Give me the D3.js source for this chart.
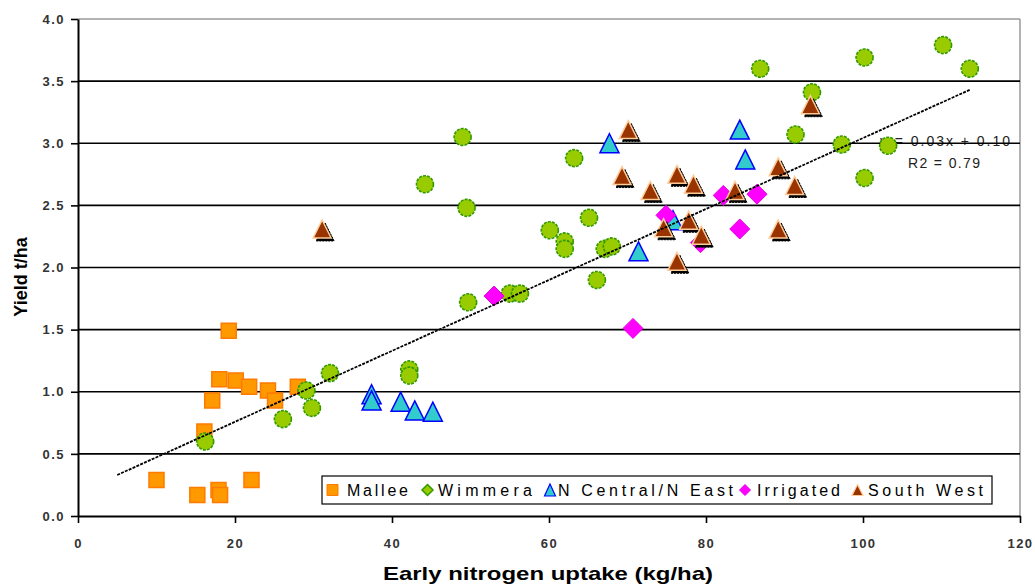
<!DOCTYPE html>
<html><head><meta charset="utf-8">
<script src="https://cdn.jsdelivr.net/npm/d3@7"></script>
<style>
html,body{margin:0;padding:0;background:#fff;}
svg{display:block;font-family:"Liberation Sans",Arial,sans-serif;}
</style></head>
<body><svg id="c" width="1035" height="584"></svg>
<script>
// ---- data ----
const malleeX = [19.2, 18.0, 20.1, 21.8, 24.2, 17.1, 25.1, 28.0, 16.1, 10.0, 15.2, 17.9, 18.1, 22.1];
const malleeY = [1.49, 1.10, 1.09, 1.04, 1.01, 0.93, 0.93, 1.04, 0.68, 0.29, 0.17, 0.21, 0.17, 0.29];
const wimmeraX = [16.2, 26.1, 29.1, 29.8, 32.1, 42.2, 42.2, 44.2, 49.0, 49.5, 49.7, 55.0, 56.3, 60.1, 62.0, 62.0, 63.2, 65.1, 66.1, 67.1, 68.0, 86.9, 91.4, 93.5, 97.3, 100.2, 100.2, 103.2, 110.2, 113.6];
const wimmeraY = [0.60, 0.78, 1.01, 0.87, 1.15, 1.18, 1.13, 2.67, 3.05, 2.48, 1.72, 1.79, 1.79, 2.30, 2.21, 2.15, 2.88, 2.40, 1.90, 2.15, 2.17, 3.60, 3.07, 3.41, 2.99, 3.69, 2.72, 2.98, 3.79, 3.60];
const nCentralX = [37.4, 37.4, 41.1, 42.9, 45.2, 67.7, 71.4, 75.8, 84.3, 85.0];
const nCentralY = [0.98, 0.93, 0.92, 0.85, 0.84, 3.00, 2.13, 2.38, 3.11, 2.87];
const irrigatedX = [53.0, 70.7, 74.9, 79.3, 82.2, 84.3, 86.5];
const irrigatedY = [1.77, 1.51, 2.42, 2.20, 2.58, 2.31, 2.59];
const southWestX = [31.1, 69.3, 70.1, 72.9, 74.6, 76.3, 76.3, 77.8, 78.4, 79.4, 83.7, 89.2, 89.2, 91.3, 93.3];
const southWestY = [2.31, 2.74, 3.11, 2.62, 2.32, 2.75, 2.05, 2.38, 2.67, 2.26, 2.62, 2.81, 2.31, 2.66, 3.31];
const trendX = [5, 113.6];
const trendY = [0.33, 3.43];
const seriesNames = ["Mallee", "Wimmera", "N Central/N East", "Irrigated", "South West"];
const xTicks = [0, 20, 40, 60, 80, 100, 120];
const yTicks = [0, 0.5, 1, 1.5, 2, 2.5, 3, 3.5, 4];
const xTitle = "Early nitrogen uptake (kg/ha)";
const yTitle = "Yield t/ha";
const eqText = "y = 0.03x + 0.10";
const r2Text = "R2 = 0.79";

// ---- layout ----
const L = 78, R = 1020, T = 19, B = 516;
const x = d3.scaleLinear().domain([0, 120]).range([L, R]);
const y = d3.scaleLinear().domain([0, 4]).range([B, T]);
const svg = d3.select("#c");

const zip = (a, b) => a.map((v, i) => [v, b[i]]);

// regression label (under gridline / points)
svg.append("text").attr("x", 880).attr("y", 146).attr("font-size", 14)
  .attr("fill", "#222").attr("textLength", 130).attr("lengthAdjust", "spacing").text(eqText);
svg.append("text").attr("x", 908).attr("y", 168).attr("font-size", 14)
  .attr("fill", "#222").attr("textLength", 72).attr("lengthAdjust", "spacing").text(r2Text);

// plot border (top/right gray)
svg.append("line").attr("x1", L).attr("x2", R).attr("y1", y(4)).attr("y2", y(4)).attr("stroke", "#999").attr("stroke-width", 1.5);
svg.append("line").attr("x1", R).attr("x2", R).attr("y1", T).attr("y2", B).attr("stroke", "#999").attr("stroke-width", 1.5);

// gridlines
svg.append("g").selectAll("line").data(yTicks.filter(d => d > 0 && d < 4)).join("line")
  .attr("x1", L).attr("x2", R).attr("y1", d => y(d)).attr("y2", d => y(d))
  .attr("stroke", "#000").attr("stroke-width", 1.6);

// axes
const yAxis = svg.append("g").attr("transform", `translate(${L},0)`)
  .call(d3.axisLeft(y).tickValues(yTicks).tickFormat(d3.format(".1f")).tickSize(7).tickSizeOuter(0).tickPadding(6));
const xAxis = svg.append("g").attr("transform", `translate(0,${B})`)
  .call(d3.axisBottom(x).tickValues(xTicks).tickFormat(d3.format("d")).tickSize(7).tickSizeOuter(0).tickPadding(16));
[yAxis, xAxis].forEach(g => {
  g.select(".domain").attr("stroke", "#000").attr("stroke-width", 2);
  g.selectAll(".tick line").attr("stroke", "#000").attr("stroke-width", 1.6);
  g.selectAll(".tick text").attr("font-size", 13).attr("font-weight", "bold")
    .attr("fill", "#333").attr("font-family", "'Liberation Sans',Arial,sans-serif").style("letter-spacing", "1.5px");
});

// titles
svg.append("text").attr("x", 383).attr("y", 580).attr("font-size", 19).attr("font-weight", "bold")
  .attr("textLength", 330).attr("lengthAdjust", "spacingAndGlyphs").text(xTitle);
svg.append("text").attr("transform", "translate(27,277) rotate(-90)").attr("text-anchor", "middle")
  .attr("font-size", 18).attr("font-weight", "bold").text(yTitle);

// symbol paths
const sq = s => `M${-s/2},${-s/2}H${s/2}V${s/2}H${-s/2}Z`;
const tri = (w, h) => `M0,${-h/2}L${w/2},${h/2}L${-w/2},${h/2}Z`;
const dia = s => `M0,${-s}L${s},0L0,${s}L${-s},0Z`;

const pts = svg.append("g");
// Mallee
pts.selectAll(".ml").data(zip(malleeX, malleeY)).join("path").attr("class", "ml")
  .attr("transform", d => `translate(${x(d[0])},${y(d[1])})`).attr("d", sq(15))
  .attr("fill", "#FF9900").attr("stroke", "#FF7A00").attr("stroke-width", 1.5);
// Wimmera
pts.selectAll(".wm").data(zip(wimmeraX, wimmeraY)).join("circle").attr("class", "wm")
  .attr("cx", d => x(d[0])).attr("cy", d => y(d[1])).attr("r", 8.5)
  .attr("fill", "#99CC00").attr("stroke", "#339900").attr("stroke-width", 1.6).attr("stroke-dasharray", "3,1.2");
// N Central
pts.selectAll(".nc").data(zip(nCentralX, nCentralY)).join("path").attr("class", "nc")
  .attr("transform", d => `translate(${x(d[0])},${y(d[1])})`).attr("d", tri(19, 19))
  .attr("fill", "#33CCCC").attr("stroke", "#0000FF").attr("stroke-width", 1.5);
// Irrigated
pts.selectAll(".ir").data(zip(irrigatedX, irrigatedY)).join("path").attr("class", "ir")
  .attr("transform", d => `translate(${x(d[0])},${y(d[1])})`).attr("d", dia(10))
  .attr("fill", "#FF00FF").attr("stroke", "#E000E0").attr("stroke-width", 1);
// South West (with shadow)
const swData = zip(southWestX, southWestY);
pts.selectAll(".sws").data(swData).join("path").attr("class", "sws")
  .attr("transform", d => `translate(${x(d[0]) + 3},${y(d[1]) + 3})`).attr("d", tri(18, 18))
  .attr("fill", "#000").attr("stroke", "#000").attr("stroke-width", 1).attr("stroke-dasharray", "2,1");
pts.selectAll(".sw").data(swData).join("path").attr("class", "sw")
  .attr("transform", d => `translate(${x(d[0])},${y(d[1])})`).attr("d", tri(18, 18))
  .attr("fill", "#993300").attr("stroke", "#FFCC99").attr("stroke-width", 1.5);

// trend line (on top)
svg.append("path").datum(zip(trendX, trendY))
  .attr("d", d3.line().x(d => x(d[0])).y(d => y(d[1])))
  .attr("fill", "none").attr("stroke", "#000").attr("stroke-width", 1.8).attr("stroke-dasharray", "3,1.2");

// legend
const lg = svg.append("g");
lg.append("rect").attr("x", 322).attr("y", 476).attr("width", 670).attr("height", 28)
  .attr("fill", "#fff").attr("stroke", "#000").attr("stroke-width", 1.2);
const legSym = [332.5, 427.5, 550, 745, 857.5];
const legTxt = [347, 438, 558, 757, 868];
const legLen = [61, 94, 175, 83, 115];
const ly = 490;
lg.append("path").attr("transform", `translate(${legSym[0]},${ly})`).attr("d", sq(11))
  .attr("fill", "#FF9900").attr("stroke", "#FF7A00").attr("stroke-width", 1);
lg.append("path").attr("transform", `translate(${legSym[1]},${ly})`).attr("d", dia(5.5))
  .attr("fill", "#99CC00").attr("stroke", "#339900").attr("stroke-width", 1.5);
lg.append("path").attr("transform", `translate(${legSym[2]},${ly})`).attr("d", tri(11, 12))
  .attr("fill", "#33CCCC").attr("stroke", "#0000FF").attr("stroke-width", 1.2);
lg.append("path").attr("transform", `translate(${legSym[3]},${ly})`).attr("d", dia(5.5))
  .attr("fill", "#FF00FF").attr("stroke", "#E000E0").attr("stroke-width", 1);
lg.append("path").attr("transform", `translate(${legSym[4]},${ly})`).attr("d", tri(11, 11))
  .attr("fill", "#993300").attr("stroke", "#FFCC99").attr("stroke-width", 1.2);
lg.selectAll("text").data(seriesNames).join("text")
  .attr("x", (d, i) => legTxt[i]).attr("y", 496).attr("font-size", 16)
  .attr("textLength", (d, i) => legLen[i]).attr("lengthAdjust", "spacing")
  .attr("fill", "#000").text(d => d);
</script></body></html>
